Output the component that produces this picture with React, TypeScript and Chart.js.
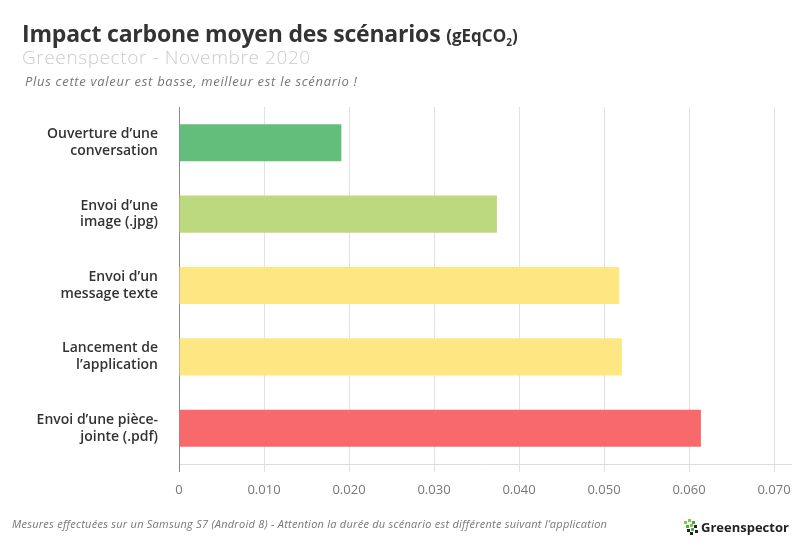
import React, { useEffect, useRef } from "react";
import { Chart, registerables } from "chart.js";

Chart.register(...registerables);

const categories: string[][] = [
  ["Ouverture d’une", "conversation"],
  ["Envoi d’une", "image (.jpg)"],
  ["Envoi d’un", "message texte"],
  ["Lancement de", "l’application"],
  ["Envoi d’une pièce-", "jointe (.pdf)"],
];
const values: number[] = [0.0191, 0.0374, 0.0518, 0.0521, 0.0614];
const barColors: string[] = ["#63BE7B", "#BDD97F", "#FEE783", "#FEE783", "#F8696B"];
const tickLabels: Record<string, string> = {
  "0": "0",
  "0.01": "0.010",
  "0.02": "0.020",
  "0.03": "0.030",
  "0.04": "0.040",
  "0.05": "0.050",
  "0.06": "0.060",
  "0.07": "0.070",
};

const FONT = "'Open Sans', 'Noto Sans', sans-serif";

export default function App() {
  const ref = useRef<HTMLCanvasElement | null>(null);

  useEffect(() => {
    document.body.style.margin = "0";
    if (!ref.current) return;
    const chart = new Chart(ref.current, {
      type: "bar",
      data: {
        labels: categories,
        datasets: [
          {
            data: values,
            backgroundColor: barColors,
            borderWidth: 0,
            barPercentage: 0.52,
            categoryPercentage: 1,
          },
        ],
      },
      options: {
        indexAxis: "y",
        responsive: false,
        animation: false,
        layout: { padding: { top: 107, right: 10, bottom: 42, left: 0 } },
        plugins: { legend: { display: false }, tooltip: { enabled: false } },
        scales: {
          x: {
            min: 0,
            max: 0.072,
            ticks: {
              stepSize: 0.01,
              includeBounds: false,
              autoSkip: false,
              maxRotation: 0,
              color: "#777",
              font: { family: FONT, size: 13 },
              padding: 10,
              callback: (v: any) => tickLabels[String(Math.round(Number(v) * 1000) / 1000)] ?? "",
            },
            afterBuildTicks: (scale: any) => {
              scale.ticks = scale.ticks.filter((t: any) => t.value <= 0.0705);
            },
            afterFit: (scale: any) => {
              scale.height = 40;
            },
            grid: {
              color: (ctx: any) => (ctx.tick && ctx.tick.value === 0 ? "#888" : "#e2e2e2"),
              tickLength: 8,
              lineWidth: 1,
            },
            border: { display: true, color: "#dcdcdc" },
          },
          y: {
            afterFit: (scale: any) => {
              scale.width = 179;
            },
            ticks: {
              color: "#333",
              font: { family: FONT, size: 14, weight: "600", lineHeight: 1.2 },
              padding: 21,
            },
            grid: { display: false, drawTicks: false },
            border: { display: true, color: "#888" },
          },
        },
      },
    });
    return () => chart.destroy();
  }, []);

  const box: React.CSSProperties = { position: "absolute", whiteSpace: "nowrap", fontFamily: FONT };

  return (
    <div style={{ position: "relative", width: 801, height: 546, background: "#fff", overflow: "hidden" }}>
      <canvas ref={ref} width={801} height={546} style={{ position: "absolute", left: 0, top: 0 }} />
      <div style={{ ...box, left: 22, top: 17, fontSize: 23, fontWeight: 700, color: "#333", letterSpacing: -0.2 }}>
        Impact carbone moyen des scénarios{" "}
        <span style={{ fontSize: 17, letterSpacing: 0 }}>
          (gEqCO<sub style={{ fontSize: 10 }}>2</sub>)
        </span>
      </div>
      <div style={{ ...box, left: 22, top: 44, fontSize: 19, fontWeight: 300, color: "#ccc", letterSpacing: 0.6 }}>
        Greenspector - Novembre 2020
      </div>
      <div style={{ ...box, left: 25, top: 72, fontSize: 13, fontStyle: "italic", color: "#777", letterSpacing: 0.7 }}>
        Plus cette valeur est basse, meilleur est le scénario !
      </div>
      <div style={{ ...box, left: 12, top: 516, fontSize: 11, fontStyle: "italic", color: "#777", letterSpacing: 0.25 }}>
        Mesures effectuées sur un Samsung S7 (Android 8) - Attention la durée du scénario est différente suivant l’application
      </div>
      <div style={{ position: "absolute", left: 684, top: 519, width: 16, height: 16 }}>
        {[
          [0, 2, "#8cc63f"], [4, 0, "#8cc63f"], [8, 2, "#39b54a"], [2, 6, "#39b54a"], [6, 5, "#8cc63f"],
          [10, 6, "#222"], [3, 10, "#222"], [7, 9, "#39b54a"], [11, 11, "#222"], [6, 13, "#222"],
        ].map(([x, y, c], i) => (
          <div key={i} style={{ position: "absolute", left: x as number, top: y as number, width: 3, height: 3, background: c as string }} />
        ))}
      </div>
      <div style={{ ...box, left: 701, top: 518, fontSize: 13, fontWeight: 700, color: "#222" }}>Greenspector</div>
    </div>
  );
}
